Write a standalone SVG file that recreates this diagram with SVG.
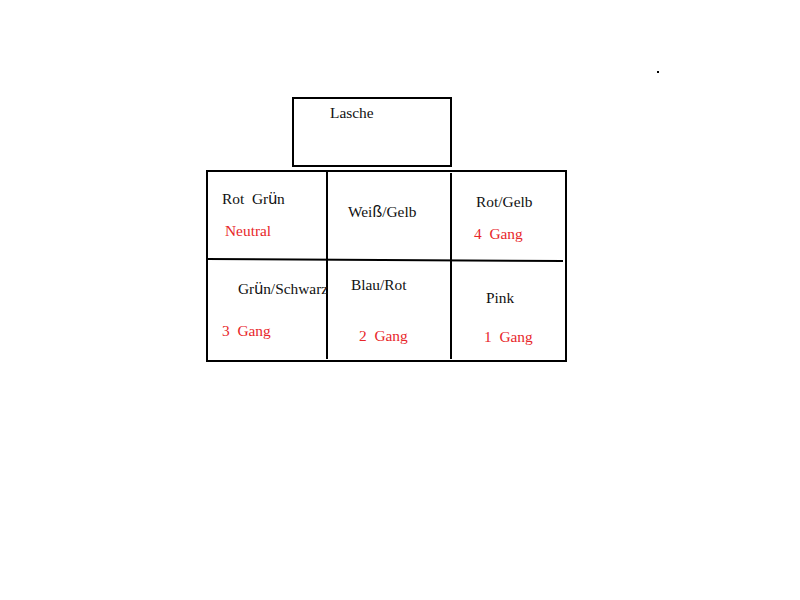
<svg xmlns="http://www.w3.org/2000/svg" width="800" height="600" viewBox="0 0 800 600">
<style>
.box{fill:none;stroke:#000;stroke-width:2}
.ln{stroke:#000;stroke-width:2;fill:none}
text{font-family:"Liberation Serif","Times New Roman",serif;font-size:15.4px;fill:#111;white-space:pre}
.red{fill:#e8262a}
.u{font-family:"Liberation Sans",Arial,sans-serif;font-size:16px}
</style>
<rect width="800" height="600" fill="#fff"/>
<g id="lasche">
<rect class="box" x="293" y="98" width="158" height="68"/>
<text x="330" y="118">Lasche</text>
</g>
<g id="grid">
<rect class="box" x="207" y="171" width="359" height="190"/>
</g>
<g id="connectors">
<line class="ln" x1="327" y1="171" x2="327" y2="359"/>
<line class="ln" x1="451" y1="173" x2="451" y2="359"/>
<line class="ln" x1="207" y1="259" x2="563" y2="261"/>
</g>
<g id="cell-rot-gruen">
<text x="222" y="204" xml:space="preserve">Rot  Gr<tspan class="u">ü</tspan>n</text>
<text class="red" x="225" y="236">Neutral</text>
</g>
<g id="cell-weiss-gelb">
<text x="348" y="217">Wei<tspan class="u">ß</tspan>/Gelb</text>
</g>
<g id="cell-rot-gelb">
<text x="476" y="207">Rot/Gelb</text>
<text class="red" x="474" y="239" xml:space="preserve">4  Gang</text>
</g>
<g id="cell-gruen-schwarz">
<text x="238" y="294">Gr<tspan class="u">ü</tspan>n/Schwarz</text>
<text class="red" x="222" y="336" xml:space="preserve">3  Gang</text>
</g>
<g id="cell-blau-rot">
<text x="351" y="290">Blau/Rot</text>
<text class="red" x="359" y="341" xml:space="preserve">2  Gang</text>
</g>
<g id="cell-pink">
<text x="486" y="303">Pink</text>
<text class="red" x="484" y="342" xml:space="preserve">1  Gang</text>
</g>
<rect x="657" y="71" width="2" height="2" fill="#000"/>
</svg>
